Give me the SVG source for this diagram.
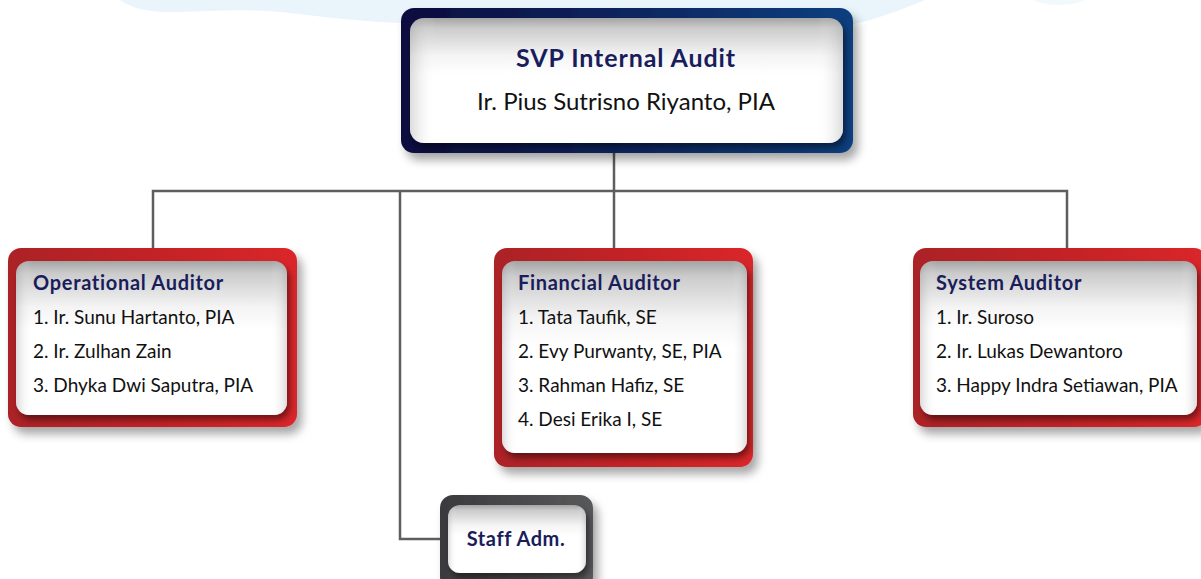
<svg xmlns="http://www.w3.org/2000/svg" width="1201" height="579" viewBox="0 0 1201 579">
  <defs>
    <style>
      .conn { fill: none; stroke: #5e5e5e; stroke-width: 2.5; }
      .title { font-family: Lato, "Open Sans", sans-serif; font-weight: bold; fill: #1a1d5c; }
      .body { font-family: Lato, "Open Sans", sans-serif; fill: #111; }
    </style>
    <linearGradient id="navy" x1="0" y1="0" x2="1" y2="0">
      <stop offset="0" stop-color="#0b0c3e"/>
      <stop offset="1" stop-color="#0a3f7e"/>
    </linearGradient>
    <linearGradient id="red" x1="0" y1="0" x2="1" y2="0">
      <stop offset="0" stop-color="#ab2326"/>
      <stop offset="1" stop-color="#da2529"/>
    </linearGradient>
    <linearGradient id="grey" x1="0" y1="0" x2="1" y2="0">
      <stop offset="0" stop-color="#3a3a3c"/>
      <stop offset="1" stop-color="#58595b"/>
    </linearGradient>
    <linearGradient id="card" x1="0" y1="0" x2="0" y2="1">
      <stop offset="0" stop-color="#a4a4a4"/>
      <stop offset="0.08" stop-color="#cbcbcb"/>
      <stop offset="0.3" stop-color="#f4f4f4"/>
      <stop offset="0.45" stop-color="#ffffff"/>
      <stop offset="1" stop-color="#ffffff"/>
    </linearGradient>
    <linearGradient id="cardSide" x1="0" y1="0" x2="1" y2="0">
      <stop offset="0" stop-color="#9a9a9a" stop-opacity="0.35"/>
      <stop offset="0.06" stop-color="#ffffff" stop-opacity="0"/>
      <stop offset="0.94" stop-color="#ffffff" stop-opacity="0"/>
      <stop offset="1" stop-color="#9a9a9a" stop-opacity="0.35"/>
    </linearGradient>
    <filter id="outerShadow" x="-10%" y="-10%" width="125%" height="130%">
      <feDropShadow dx="5" dy="7" stdDeviation="5" flood-color="#000" flood-opacity="0.35"/>
    </filter>
    <filter id="innerShadow" x="-10%" y="-10%" width="125%" height="130%">
      <feDropShadow dx="3" dy="5" stdDeviation="3" flood-color="#000" flood-opacity="0.45"/>
    </filter>
  </defs>

  <!-- faint sky backdrop along the top edge -->
  <g id="backdrop" fill="#e9f5fb">
    <path d="M120 0 C135 10 150 12 175 12 C215 11 245 8 290 13 C330 18 370 22 420 24 L853 24 C875 20 900 10 925 0 Z"/>
    <path d="M1032 0 C1045 6 1070 7 1085 0 Z" opacity="0.6"/>
  </g>

  <!-- connectors -->
  <g id="connectors">
    <path class="conn" d="M614 150 V249"/>
    <path class="conn" d="M153 249 V191 H1067 V249"/>
    <path class="conn" d="M400 191 V539 H442"/>
  </g>

  <!-- head of the unit -->
  <g id="svp">
    <rect x="401" y="8" width="452" height="145" rx="13" fill="url(#navy)" filter="url(#outerShadow)"/>
    <rect x="410" y="18" width="433" height="125" rx="14" fill="url(#card)" filter="url(#innerShadow)"/>
    <rect x="410" y="18" width="433" height="125" rx="14" fill="url(#cardSide)"/>
    <text class="title" x="626" y="67" font-size="25" letter-spacing="0.9" text-anchor="middle">SVP Internal Audit</text>
    <text class="body" x="626" y="110" font-size="24" text-anchor="middle">Ir. Pius Sutrisno Riyanto, PIA</text>
  </g>

  <g id="operational">
    <rect x="8" y="248" width="289" height="179" rx="13" fill="url(#red)" filter="url(#outerShadow)"/>
    <rect x="16" y="261" width="271" height="154" rx="13" fill="url(#card)" filter="url(#innerShadow)"/>
    <rect x="16" y="261" width="271" height="154" rx="13" fill="url(#cardSide)"/>
    <text class="title" x="33" y="290" font-size="20" letter-spacing="0.7">Operational Auditor</text>
    <text class="body" x="33" y="324" font-size="19">1. Ir. Sunu Hartanto, PIA</text>
    <text class="body" x="33" y="358" font-size="19">2. Ir. Zulhan Zain</text>
    <text class="body" x="33" y="392" font-size="19">3. Dhyka Dwi Saputra, PIA</text>
  </g>

  <g id="financial">
    <rect x="494" y="248" width="259" height="219" rx="13" fill="url(#red)" filter="url(#outerShadow)"/>
    <rect x="502" y="261" width="245" height="192" rx="13" fill="url(#card)" filter="url(#innerShadow)"/>
    <rect x="502" y="261" width="245" height="192" rx="13" fill="url(#cardSide)"/>
    <text class="title" x="518" y="290" font-size="20" letter-spacing="0.7">Financial Auditor</text>
    <text class="body" x="518" y="324" font-size="19">1. Tata Taufik, SE</text>
    <text class="body" x="518" y="358" font-size="19">2. Evy Purwanty, SE, PIA</text>
    <text class="body" x="518" y="392" font-size="19">3. Rahman Hafiz, SE</text>
    <text class="body" x="518" y="426" font-size="19">4. Desi Erika I, SE</text>
  </g>

  <g id="system">
    <rect x="913" y="248" width="294" height="179" rx="13" fill="url(#red)" filter="url(#outerShadow)"/>
    <rect x="920" y="261" width="277" height="154" rx="13" fill="url(#card)" filter="url(#innerShadow)"/>
    <rect x="920" y="261" width="277" height="154" rx="13" fill="url(#cardSide)"/>
    <text class="title" x="936" y="290" font-size="20" letter-spacing="0.7">System Auditor</text>
    <text class="body" x="936" y="324" font-size="19">1. Ir. Suroso</text>
    <text class="body" x="936" y="358" font-size="19">2. Ir. Lukas Dewantoro</text>
    <text class="body" x="936" y="392" font-size="19">3. Happy Indra Setiawan, PIA</text>
  </g>

  <g id="staff">
    <rect x="440" y="495" width="153" height="95" rx="13" fill="url(#grey)" filter="url(#outerShadow)"/>
    <rect x="448" y="505" width="138" height="68" rx="12" fill="url(#card)" filter="url(#innerShadow)"/>
    <rect x="448" y="505" width="138" height="68" rx="12" fill="url(#cardSide)"/>
    <text class="title" x="516" y="546" font-size="20" letter-spacing="0.6" text-anchor="middle">Staff Adm.</text>
  </g>
</svg>
